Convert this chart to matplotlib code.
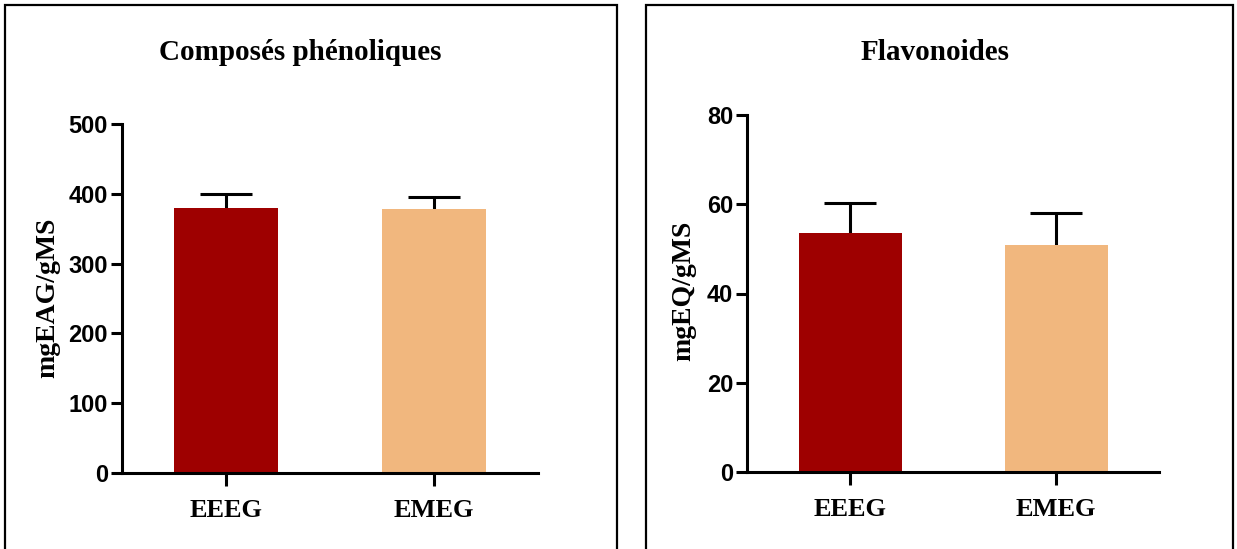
import matplotlib.pyplot as plt
from matplotlib.patches import Rectangle

# données
groupes = ['EEEG', 'EMEG']
couleurs = ['#9E0000', '#F1B77E']

phenols = [379, 378]
phenols_err = [20, 18]

flavo = [53.5, 50.9]
flavo_err = [6.7, 7.1]

serif = ['Liberation Serif', 'DejaVu Serif']
sans = ['Liberation Sans', 'DejaVu Sans']

fig = plt.figure(figsize=(12.37, 5.49), dpi=100)

# cadres autour des deux panneaux
for x0, x1 in [(5, 617), (646, 1233)]:
    r = Rectangle((x0 / 1237, -0.1), (x1 - x0) / 1237, 1.1 - 5 / 549,
                  transform=fig.transFigure, fill=False, lw=1.6, ec='black')
    fig.add_artist(r)


def panneau(rect, vals, errs, ymax, step, ylabel, titre, tx, lx, ly):
    ax = fig.add_axes(rect)
    pos = range(len(groupes))
    ax.bar(pos, vals, width=0.5, color=couleurs, zorder=2)
    eb = ax.errorbar(pos, vals, yerr=[[0] * len(errs), errs], fmt='none',
                     ecolor='black', elinewidth=2.2, capsize=19, capthick=2.2, zorder=1)
    # seulement la barre d'erreur vers le haut
    eb[1][0].set_visible(False)
    ax.set_xlim(-0.5, 1.5)
    ax.set_ylim(0, ymax)
    ax.set_yticks(range(0, ymax + 1, step))
    ax.set_xticks(list(pos))
    ax.set_xticklabels(groupes, fontfamily=serif, fontweight='bold', fontsize=19)
    for lab in ax.get_yticklabels():
        lab.set_fontfamily(sans)
        lab.set_fontweight('bold')
        lab.set_fontsize(17)
    ax.spines['top'].set_visible(False)
    ax.spines['right'].set_visible(False)
    for s in ['left', 'bottom']:
        ax.spines[s].set_linewidth(2.2)
    ax.tick_params(axis='y', length=8, width=2.2, pad=2)
    ax.tick_params(axis='x', length=9, width=2.2, pad=10)
    fig.text(lx / 1237, 1 - ly / 549, ylabel, rotation=90, ha='center', va='center',
             fontfamily=serif, fontweight='bold', fontsize=20)
    fig.text(tx / 1237, 1 - 52 / 549, titre, ha='center', va='center',
             fontfamily=serif, fontweight='bold', fontsize=21)
    return ax


panneau([122 / 1237, 76 / 549, 416 / 1237, 349 / 549], phenols, phenols_err, 500, 100,
        'mgEAG/gMS', 'Composés phénoliques', 300, 48, 298)
panneau([747 / 1237, 77 / 549, 412 / 1237, 357 / 549], flavo, flavo_err, 80, 20,
        'mgEQ/gMS', 'Flavonoides', 935, 684, 291)

plt.savefig('out.png', dpi=100)
